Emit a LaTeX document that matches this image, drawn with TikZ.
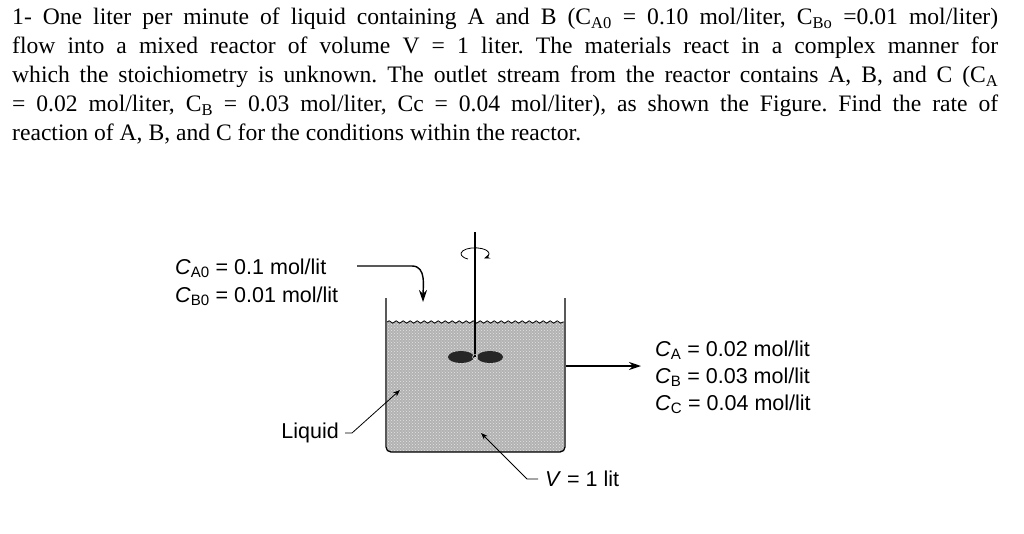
\documentclass[tikz,border=0pt]{standalone}
\usepackage{fontspec}
\setmainfont{Liberation Serif}
\newfontfamily\lsans{Liberation Sans}
\usetikzlibrary{decorations.pathmorphing,patterns,arrows.meta}
\newcommand{\cc}[1]{\textit{C}\textsubscript{#1}}
\begin{document}
\begin{tikzpicture}[x=1pt,y=-1pt,
  lab/.style={font=\lsans\fontsize{21.5}{27}\selectfont,inner sep=0pt},
  lead/.style={thick,-{Stealth[length=7pt]}},
  flow/.style={line width=1.4pt,-{Stealth[length=12pt,width=8pt]}}]
\useasboundingbox (0,0) rectangle (1024,533);
\node[anchor=north west,inner sep=0pt,text width=986pt,align=justify,
  font=\fontsize{23.6}{29}\selectfont\frenchspacing] (para) at (12,8)
 {1- One liter per minute of liquid containing A and B (C\textsubscript{A0} = 0.10 mol/liter, C\textsubscript{Bo} =0.01 mol/liter)\linebreak flow into a mixed reactor of volume V = 1 liter. The materials react in a complex manner for\linebreak which the stoichiometry is unknown. The outlet stream from the reactor contains A, B, and C (C\textsubscript{A}\linebreak = 0.02 mol/liter, C\textsubscript{B} = 0.03 mol/liter, Cc = 0.04 mol/liter), as shown the Figure. Find the rate of\linebreak reaction of A, B, and C for the conditions within the reactor.};
% liquid
\fill[gray!60] (387,322) -- (387,447) arc (180:90:5) -- (559,452) arc (90:0:5) -- (564,322) -- cycle;
\fill[pattern=crosshatch dots, pattern color=white!80!gray] (387,322) rectangle (564,452);
\draw[thick,decorate,decoration={snake,amplitude=1.2pt,segment length=7pt}] (387,322) -- (564,322);
% tank
\draw[line width=1.3pt] (386,298) -- (386,447) arc (180:90:5) -- (560,452) arc (90:0:5) -- (565,298);
% shaft
\draw[line width=1.6pt] (475,232) -- (475,357);
\fill[gray!30!black] (461,357) ellipse (13 and 6);
\fill[gray!30!black] (490,357) ellipse (13 and 6);
\draw[white,thin] (475,357) circle (2.5);
\draw[thick,-{Stealth[length=6pt]}] (468,259) arc (120:410:14 and 6);
% inlet
\node[lab,anchor=west] (cao) at (175,268) {\cc{A0} = 0.1 mol/lit};
\node[lab,anchor=west] (cbo) at (175,296) {\cc{B0} = 0.01 mol/lit};
\coordinate (in) at (423,302);
\draw[flow] (357,266) -- (412,266) to[out=0,in=90] (in);
% outlet
\node[lab,anchor=west] (ca) at (655,350) {\cc{A} = 0.02 mol/lit};
\node[lab,anchor=west] (cb) at (655,377) {\cc{B} = 0.03 mol/lit};
\node[lab,anchor=west] (cc) at (655,404) {\cc{C} = 0.04 mol/lit};
\coordinate (out0) at (566,366);
\draw[flow] (out0) -- (641,366);
% leaders
\node[lab,anchor=east] (liq) at (339,433) {Liquid};
\coordinate (liqend) at (400,390);
\draw[lead] (345,433) -- (352,433) -- (liqend);
\node[lab,anchor=west] (vol) at (545,479) {\textit{V} = 1 lit};
\coordinate (volend) at (481,433);
\draw[lead] (538,479) -- (527,479) -- (volend);
\end{tikzpicture}
\end{document}
